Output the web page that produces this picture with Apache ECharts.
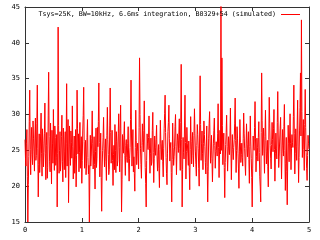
<!DOCTYPE html>
<html><head><meta charset="utf-8">
<script src="https://cdn.jsdelivr.net/npm/echarts@6/dist/echarts.min.js"></script>
<style>html,body{margin:0;padding:0;background:#fff}#c{width:320px;height:240px}</style>
</head><body><div id="c"></div>
<script>
var seriesName = 'Tsys=25K, BW=10kHz, 6.6ms integration, B0329+54 (simulated)';
var timeStart = 0, timeEnd = 5;
var xTicks = [0, 1, 2, 3, 4, 5];
var yTicks = [15, 20, 25, 30, 35, 40, 45];
var power = [
26.5,24.0,22.8,25.9,27.9,21.3,15.0,20.2,24.1,29.0,33.4,25.1,21.6,26.3,28.2,24.4,23.0,29.1,26.7,24.9,
22.1,27.0,29.5,23.6,24.3,28.7,34.1,25.2,18.5,23.0,27.3,21.9,23.8,27.4,30.2,24.6,21.4,28.0,26.0,22.7,
24.7,27.3,31.6,24.5,20.9,25.7,27.5,21.1,22.6,29.8,35.9,26.9,23.4,22.0,28.8,25.3,20.3,27.8,25.9,23.2,
30.7,25.6,22.2,28.4,26.8,22.9,24.0,27.2,17.1,24.6,42.2,28.5,21.8,25.0,27.6,22.1,23.5,26.9,29.9,23.4,
20.6,28.1,26.3,22.3,24.9,27.6,21.2,26.0,34.3,22.8,25.6,29.3,17.7,23.5,28.4,25.8,22.9,27.7,26.1,23.9,
31.2,25.5,21.0,24.2,27.0,21.8,23.7,27.9,19.9,24.3,33.4,28.0,24.5,27.3,22.0,24.7,28.9,22.5,25.2,26.9,
20.4,23.6,27.7,29.9,33.8,26.2,22.5,24.9,26.4,21.6,23.1,26.8,29.3,24.0,21.7,22.9,15.0,21.7,27.1,22.8,
24.2,26.7,30.5,25.9,22.4,24.5,26.9,23.0,19.6,24.8,28.1,22.6,23.9,28.2,25.5,29.0,34.4,26.1,21.3,25.0,
27.4,21.2,16.5,22.4,25.0,26.8,29.6,25.3,22.7,24.9,26.6,23.4,20.8,27.1,31.0,26.5,24.4,21.6,22.3,28.4,
33.7,27.5,23.2,24.9,27.8,23.6,20.1,24.4,25.7,22.3,28.6,25.0,21.9,27.6,26.2,22.8,23.6,27.3,30.1,25.4,
22.0,28.0,31.3,23.8,16.4,20.9,27.2,25.5,24.6,27.1,29.0,24.3,21.5,25.7,26.5,24.0,23.3,26.0,28.3,23.1,
20.7,23.9,25.4,29.3,34.8,27.0,22.8,25.6,27.9,22.0,24.1,21.8,19.3,25.4,30.6,26.4,23.0,24.8,26.0,24.5,
22.4,28.2,37.9,30.0,25.3,23.0,21.1,25.7,28.7,26.1,24.8,27.8,31.9,26.3,22.6,20.4,17.1,23.6,27.3,25.9,
25.1,26.8,29.8,25.2,21.8,24.6,26.7,22.9,23.4,27.8,30.3,24.7,20.5,23.9,27.0,25.4,24.3,26.5,28.5,24.2,
22.1,24.3,25.8,22.5,19.8,25.1,29.2,26.0,23.7,25.6,26.4,23.4,21.3,25.2,28.0,30.1,32.7,27.5,24.0,21.8,
20.2,24.5,27.6,28.9,31.3,26.6,23.5,25.2,26.1,21.9,17.8,23.7,28.8,25.4,22.9,24.1,25.6,28.3,30.0,25.5,
21.6,25.0,27.3,26.4,24.7,27.2,29.4,25.3,22.2,28.9,37.0,26.5,17.1,22.3,26.8,24.7,23.8,28.4,32.7,26.1,
21.0,24.8,28.2,26.0,24.5,22.9,26.3,22.6,19.5,25.1,29.7,26.2,23.1,25.9,27.5,24.3,22.7,27.1,30.8,27.4,
24.9,23.0,21.4,25.7,28.6,27.2,25.2,22.5,20.0,28.4,35.4,28.6,23.6,25.9,27.7,24.6,22.3,26.0,29.1,27.2,
25.5,23.3,21.7,25.6,28.4,22.7,17.8,22.1,26.6,28.7,30.4,26.3,23.2,25.0,27.1,23.9,20.6,23.5,25.9,27.8,
29.5,25.7,22.5,24.8,26.2,25.0,24.2,27.3,31.5,25.4,21.2,24.9,27.8,24.5,47.0,25.0,37.9,28.5,23.0,25.6,
27.4,22.6,18.4,23.3,25.8,27.5,29.9,25.5,22.1,24.3,26.9,25.2,24.4,27.0,30.9,25.6,20.9,24.5,27.2,25.1,
23.7,25.4,26.5,28.8,32.3,26.4,21.9,25.0,28.3,26.7,24.6,22.4,19.7,24.9,29.3,26.1,23.3,24.4,26.0,24.0,
22.8,26.6,30.2,27.4,25.3,23.1,21.5,25.3,28.7,26.0,24.1,25.8,27.6,23.7,20.4,25.5,29.8,26.3,23.9,21.2,
17.1,22.4,27.0,25.6,25.0,28.2,31.8,26.6,22.0,24.1,26.7,25.4,23.5,26.8,29.0,24.7,21.3,19.9,17.8,27.5,
35.8,29.2,24.3,26.6,28.1,24.6,21.8,26.9,30.6,26.4,23.1,24.8,26.4,22.7,19.9,26.5,32.4,28.8,25.7,23.9,
22.4,25.8,28.9,26.5,24.8,28.0,30.7,25.1,20.7,24.5,27.4,25.2,23.8,28.9,33.2,27.0,22.6,24.2,26.3,28.1,
29.6,24.9,21.0,24.6,27.9,25.7,24.2,28.3,31.4,25.0,19.4,23.2,26.8,22.0,17.4,23.5,28.5,25.9,23.4,27.0,
30.1,25.9,22.3,25.3,27.2,26.1,25.4,29.7,34.1,27.3,21.7,24.6,28.0,25.5,23.6,28.4,32.0,25.6,20.5,24.0,
27.7,31.0,35.8,27.0,43.2,30.4,24.0,26.9,29.3,25.1,22.2,28.6,33.5,28.2,24.7,22.5,20.8,24.3,27.1,26.0,
25.2
];
var step = (timeEnd - timeStart) / (power.length - 1);
var pts = power.map(function (v, i) { return [timeStart + i * step, v]; });

var chart = echarts.init(document.getElementById('c'), null, {renderer: 'canvas'});
var axisCol = '#333';
var red = '#ff0000';
var lblFont = {fontFamily: 'DejaVu Sans Mono', fontSize: 7, color: '#000'};
function xAx(pos, showLabel) {
  return {
    type: 'value', position: pos, min: xTicks[0], max: xTicks[xTicks.length - 1],
    interval: xTicks[1] - xTicks[0],
    axisLine: {show: true, onZero: false, lineStyle: {color: axisCol, width: 1}},
    axisTick: {show: true, inside: true, length: 4, lineStyle: {color: axisCol}},
    axisLabel: Object.assign({show: showLabel, margin: 5}, lblFont),
    splitLine: {show: false}
  };
}
function yAx(pos, showLabel) {
  return {
    type: 'value', position: pos, min: yTicks[0], max: yTicks[yTicks.length - 1],
    interval: yTicks[1] - yTicks[0],
    axisLine: {show: true, onZero: false, lineStyle: {color: axisCol, width: 1}},
    axisTick: {show: true, inside: true, length: 4, lineStyle: {color: axisCol}},
    axisLabel: Object.assign({show: showLabel, margin: 5}, lblFont),
    splitLine: {show: false}
  };
}
chart.setOption({
  animation: false,
  color: [red],
  grid: {left: 25, right: 11, top: 7, bottom: 18, containLabel: false},
  legend: {
    show: true, right: 20, top: 11, align: 'right', orient: 'horizontal',
    icon: 'rect', itemWidth: 19, itemHeight: 1, itemGap: 5,
    itemStyle: {color: red, borderWidth: 0},
    lineStyle: {color: red},
    data: [{name: seriesName, itemStyle: {color: red, borderWidth: 0}}],
    textStyle: {fontFamily: 'DejaVu Sans Mono', fontSize: 6.7, color: '#000', padding: 0},
    padding: 0
  },
  xAxis: [xAx('bottom', true), xAx('top', false)],
  yAxis: [yAx('left', true), yAx('right', false)],
  series: [{
    name: seriesName, type: 'line', data: pts, xAxisIndex: 0, yAxisIndex: 0,
    showSymbol: false, symbol: 'none', clip: true, color: red,
    lineStyle: {color: red, width: 1}, itemStyle: {color: red}
  }]
});
</script></body></html>
